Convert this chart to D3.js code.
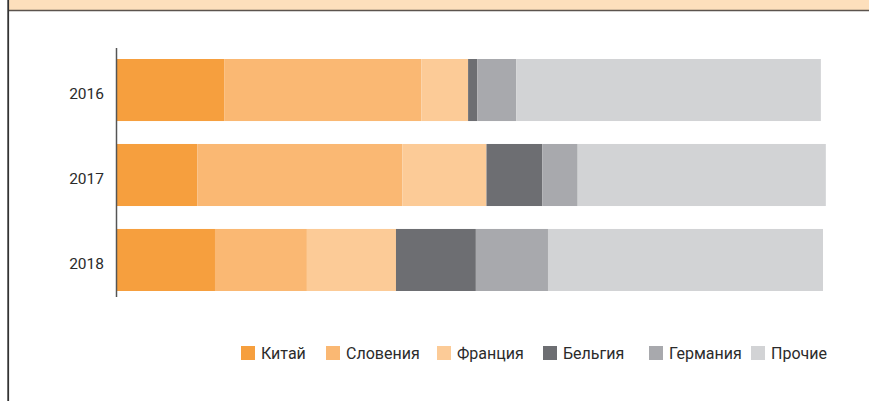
<!DOCTYPE html>
<html>
<head>
<meta charset="utf-8">
<script src="https://cdn.jsdelivr.net/npm/d3@7"></script>
<style>
  body { margin: 0; background: #fff; }
  svg { display: block; font-family: Roboto, "Noto Sans", sans-serif; }
</style>
</head>
<body>
<svg id="chart"></svg>
<script>
const width = 869;
const height = 401;

// data (shares, %)
const years = ["2016", "2017", "2018"];
const countries = ["Китай", "Словения", "Франция", "Бельгия", "Германия", "Прочие"];
const china    = [15.3, 11.5, 14.0];
const slovenia = [27.9, 29.0, 13.0];
const france   = [6.6, 11.9, 12.6];
const belgium  = [1.3, 7.9, 11.3];
const germany  = [5.5, 5.0, 10.2];
const others   = [43.1, 35.1, 38.9];
const colors = ["#f69f3e", "#fab873", "#fccb97", "#6d6e72", "#a8a9ad", "#d2d3d5"];

const series = [china, slovenia, france, belgium, germany, others];
const rows = years.map((y, i) => {
    const r = { year: y };
    countries.forEach((c, j) => { r[c] = series[j][i]; });
    return r;
});

const svg = d3.select("#chart")
    .attr("width", width)
    .attr("height", height);

// frame: top band + left rule
svg.append("rect")
    .attr("x", 9).attr("y", 0)
    .attr("width", width - 9).attr("height", 10)
    .attr("fill", "#fddfbc");
svg.append("line")
    .attr("x1", 9).attr("x2", width)
    .attr("y1", 10.5).attr("y2", 10.5)
    .attr("stroke", "#5b534e").attr("stroke-width", 1.5);
svg.append("line")
    .attr("x1", 8.2).attr("x2", 8.2)
    .attr("y1", 0).attr("y2", height)
    .attr("stroke", "#333").attr("stroke-width", 1.8);

const x = d3.scaleLinear()
    .domain([0, 100])
    .range([116, 823]);

const y = d3.scaleBand()
    .domain(years)
    .range([59, 291])
    .paddingInner(0.27)
    .paddingOuter(0);

const stack = d3.stack().keys(countries)(rows);

svg.append("g")
    .selectAll("g")
    .data(stack)
    .join("g")
    .attr("fill", (d, i) => colors[i])
    .selectAll("rect")
    .data(d => d)
    .join("rect")
    .attr("x", d => x(d[0]))
    .attr("y", d => y(d.data.year))
    .attr("width", d => x(d[1]) - x(d[0]))
    .attr("height", y.bandwidth());

// y axis
const yAxis = svg.append("g")
    .attr("transform", "translate(116,0)")
    .call(d3.axisLeft(y).tickSize(0).tickPadding(12));
yAxis.select(".domain")
    .attr("d", "M0.5,48V297")
    .attr("stroke", "#555")
    .attr("stroke-width", 1.5);
yAxis.selectAll("text")
    .attr("fill", "#2b2b2b")
    .attr("dy", "0.6em")
    .style("font-size", "15.5px")
    .style("font-family", "Roboto, 'Noto Sans', sans-serif");

// legend (item positions follow the original layout)
const legendX = [241, 326, 437, 543, 649, 751];
const items = svg.append("g")
    .selectAll("g")
    .data(countries)
    .join("g")
    .attr("transform", (d, i) => `translate(${legendX[i]},0)`);
items.append("rect")
    .attr("width", 14).attr("height", 14)
    .attr("y", 346)
    .attr("fill", (d, i) => colors[i]);
items.append("text")
    .attr("x", 20)
    .attr("y", 359)
    .attr("fill", "#2b2b2b")
    .style("font-size", "16px")
    .text(d => d);
</script>
</body>
</html>
